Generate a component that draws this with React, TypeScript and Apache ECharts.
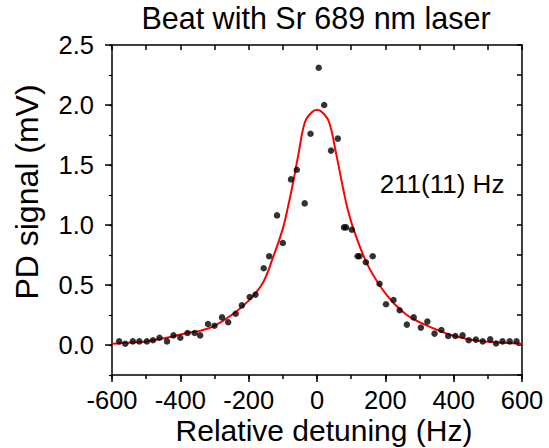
import React, { useEffect, useRef } from "react";
import * as echarts from "echarts";

// Measured data points (relative detuning in Hz, PD signal in mV)
const detuning = [-579,-561,-539,-520,-498,-480,-461,-439,-420,-400,-379,-358,-342,-319,-300,-278,-260,-238,-220,-197,-180,-156,-140,-117,-100,-76,-59,-36,-19,5,21,41,61,79,85,102,119,124,143,163,183,202,224,242,263,283,304,323,344,364,384,405,426,444,465,485,507,524,543,564,584];
const signal = [0.03,0.01,0.03,0.03,0.03,0.04,0.06,0.03,0.08,0.06,0.10,0.10,0.08,0.175,0.16,0.23,0.19,0.26,0.33,0.40,0.42,0.64,0.74,1.08,0.85,1.38,1.46,1.18,1.76,2.31,2.00,1.62,1.72,0.98,0.98,0.96,0.74,0.74,0.69,0.74,0.51,0.34,0.375,0.29,0.17,0.23,0.145,0.195,0.095,0.125,0.075,0.075,0.08,0.04,0.045,0.03,0.047,0.012,0.03,0.03,0.03];

// Fit curve
const fitX = [-600,-540,-500,-440,-380,-340,-300,-250,-200,-160,-130,-100,-85,-73,-55,-35,-15,0,15,35,57,76,90,110,146,185,224,263,300,340,385,444,500,580,600];
const fitY = [0.01,0.02,0.03,0.06,0.10,0.12,0.16,0.25,0.37,0.51,0.72,0.97,1.15,1.31,1.58,1.86,1.94,1.96,1.94,1.86,1.58,1.31,1.13,0.94,0.68,0.49,0.35,0.25,0.19,0.14,0.09,0.047,0.028,0.014,0.01];

const yTicks = [0, 0.5, 1.0, 1.5, 2.0, 2.5];
const titleText = "Beat with Sr 689 nm laser";
const xTitle = "Relative detuning (Hz)";
const yTitle = "PD signal (mV)";
const annotation = "211(11) Hz";

const FONT = "'Liberation Sans', Arial, sans-serif";

export default function App() {
  const ref = useRef<HTMLDivElement>(null);
  useEffect(() => {
    if (!ref.current) return;
    const chart = echarts.init(ref.current, undefined, { renderer: "svg" });
    const line = { show: true, onZero: false, lineStyle: { color: "#000", width: 1.5 } };
    const noLine = { show: false, onZero: false };
    const common = { min: -600, max: 600, type: "value" as const, splitLine: { show: false } };
    const yCommon = { min: -0.25, max: 2.5, type: "value" as const, splitLine: { show: false } };
    chart.setOption({
      animation: false,
      backgroundColor: "#fff",
      textStyle: { fontFamily: FONT },
      grid: { left: 112, right: 27, top: 45, bottom: 73, containLabel: false },
      xAxis: [
        {
          ...common, position: "bottom", interval: 200,
          axisLine: line,
          axisTick: { show: true, inside: false, length: 7, lineStyle: { color: "#000", width: 1.5 } },
          axisLabel: { show: true, color: "#000", fontSize: 25.5, fontFamily: FONT, margin: 12 },
        },
        {
          ...common, position: "bottom", interval: 100,
          axisLine: noLine,
          axisTick: { show: true, inside: false, length: 4, lineStyle: { color: "#000", width: 1.5 } },
          axisLabel: { show: false },
        },
        {
          ...common, position: "top", interval: 100,
          axisLine: line,
          axisTick: { show: true, inside: true, length: 5, lineStyle: { color: "#000", width: 1.5 } },
          axisLabel: { show: false },
        },
      ],
      yAxis: [
        {
          ...yCommon, position: "left",
          axisLine: line,
          axisTick: { show: true, inside: false, length: 7, customValues: yTicks, lineStyle: { color: "#000", width: 1.5 } },
          axisLabel: {
            show: true, color: "#000", fontSize: 25.5, fontFamily: FONT, margin: 18,
            customValues: yTicks,
            formatter: (v: number) => v.toFixed(1),
          },
        },
        {
          ...yCommon, position: "left", interval: 0.25,
          axisLine: noLine,
          axisTick: { show: true, inside: false, length: 3, lineStyle: { color: "#000", width: 1.2 } },
          axisLabel: { show: false },
        },
        {
          ...yCommon, position: "right", interval: 0.25,
          axisLine: line,
          axisTick: { show: true, inside: true, length: 5, lineStyle: { color: "#000", width: 1.5 } },
          axisLabel: { show: false },
        },
      ],
      graphic: [
        {
          type: "text", x: 316, y: 18,
          style: { text: titleText, fontSize: 30.5, fontFamily: FONT, fill: "#000", textAlign: "center", textVerticalAlign: "middle" },
        },
        {
          type: "text", x: 324, y: 430,
          style: { text: xTitle, fontSize: 30, fontFamily: FONT, fill: "#000", textAlign: "center", textVerticalAlign: "middle" },
        },
        {
          type: "text", x: 27, y: 192, rotation: Math.PI / 2,
          style: { text: yTitle, fontSize: 32, fontFamily: FONT, fill: "#000", textAlign: "center", textVerticalAlign: "middle" },
        },
        {
          type: "text", x: 442, y: 184,
          style: { text: annotation, fontSize: 26, fontFamily: FONT, fill: "#000", textAlign: "center", textVerticalAlign: "middle" },
        },
      ],
      series: [
        {
          type: "line",
          xAxisIndex: 0, yAxisIndex: 0,
          data: fitX.map((x, i) => [x, fitY[i]]),
          smooth: 0.4,
          showSymbol: false,
          lineStyle: { color: "#ff0000", width: 2 },
          z: 2,
        },
        {
          type: "scatter",
          xAxisIndex: 0, yAxisIndex: 0,
          data: detuning.map((x, i) => [x, signal[i]]),
          symbol: "circle",
          symbolSize: 6.5,
          itemStyle: { color: "#000" },
          z: 3,
        },
      ],
    });
    return () => chart.dispose();
  }, []);
  return <div ref={ref} style={{ position: "fixed", left: 0, top: 0, width: 549, height: 448 }} />;
}
